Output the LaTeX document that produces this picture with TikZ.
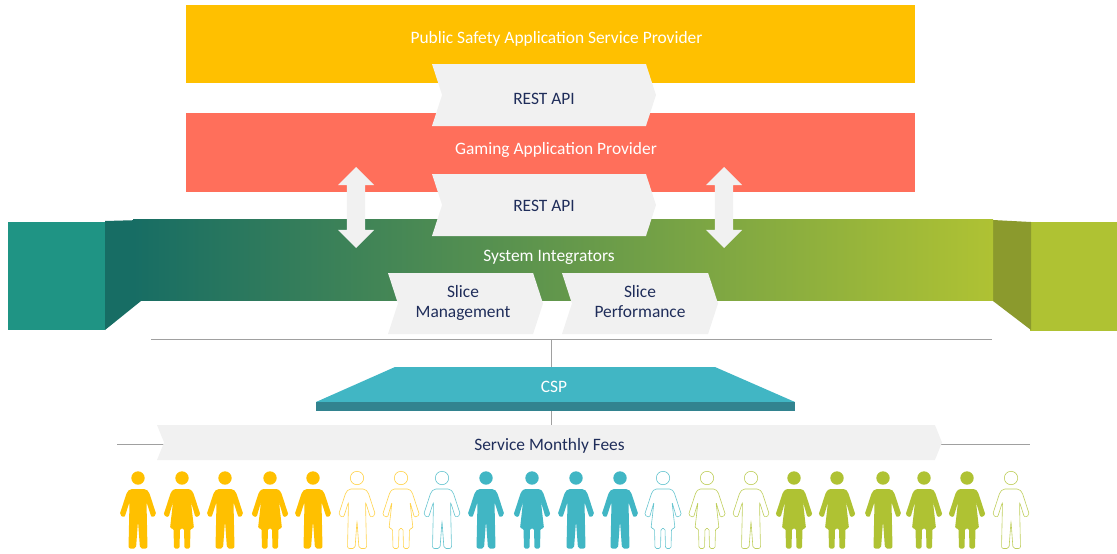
\documentclass[tikz,border=0pt]{standalone}
\usepackage{xcolor}
\usepackage{fontspec}
\setmainfont{Carlito}
\usetikzlibrary{shapes.geometric, shapes.symbols, shapes.arrows}

\definecolor{safety}{HTML}{FFC000}
\definecolor{gaming}{HTML}{FF6F5B}
\definecolor{tealside}{HTML}{1F9484}
\definecolor{tealfold}{HTML}{176D64}
\definecolor{limeside}{HTML}{AFC233}
\definecolor{limefold}{HTML}{8B9A2D}
\definecolor{cspface}{HTML}{41B6C4}
\definecolor{cspedge}{HTML}{32838F}
\definecolor{tag}{HTML}{F1F1F1}
\definecolor{navy}{HTML}{1F2D5A}
\definecolor{rule}{HTML}{A0A0A0}

\begin{document}
\begin{tikzpicture}[x=1pt, y=-1pt, font=\fontsize{17.4}{20}\selectfont]
    % Define the style for the nodes
    \tikzstyle{band} = [rectangle, inner sep=0pt, minimum width=729, minimum height=78.5]
    \tikzstyle{title} = [text=white, inner sep=0pt]
    \tikzstyle{tagbox} = [signal, signal from=west, signal to=east, signal pointer angle=144, fill=tag, text=navy, inner sep=0pt, minimum height=62, align=center]
    \tikzstyle{updown} = [double arrow, shape border rotate=90, fill=tag, inner sep=9pt, minimum height=81, minimum width=36, double arrow head extend=9]
    \tikzstyle{line} = [draw=rule, thick]
    \tikzstyle{fullgold} = [fill=safety]
    \tikzstyle{linegold} = [draw=safety!70, line width=0.6pt]
    \tikzstyle{fullteal} = [fill=cspface]
    \tikzstyle{lineteal} = [draw=cspface!80, line width=0.6pt]
    \tikzstyle{fullgreen} = [fill=limeside]
    \tikzstyle{linegreen} = [draw=limeside!80, line width=0.6pt]

    % Define the people
    \tikzset{
      pics/man/.style={code={
        \path[pic actions] (0,0) circle (6.7);
        \path[pic actions, rounded corners=2pt] (-8,11) -- (8,11) -- (11,14) -- (18.5,37) -- (13.5,39.5) -- (8.5,24) -- (9.5,70.5) -- (2,70.5) -- (0,43)
          -- (-2,70.5) -- (-9.5,70.5) -- (-8.5,24) -- (-13.5,39.5) -- (-18.5,37) -- (-11,14) -- cycle;
      }},
      pics/woman/.style={code={
        \path[pic actions] (0,0) circle (6.7);
        \path[pic actions, rounded corners=1.5pt] (-8,11) -- (8,11) -- (11,14) -- (18.5,37) -- (13.5,39.5) -- (9,24) -- (12,50.5) -- (8.5,50.5) -- (8,70.5) -- (2.5,70.5) -- (2,50.5)
          -- (-2,50.5) -- (-2.5,70.5) -- (-8,70.5) -- (-8.5,50.5) -- (-12,50.5) -- (-9,24) -- (-13.5,39.5) -- (-18.5,37) -- (-11,14) -- cycle;
      }}
    }

    \useasboundingbox (0,0) rectangle (1117,554);

    % Place the bands
    \node [band, fill=safety] (safety) at (550.5,44) {};
    \node [band, fill=gaming] (gaming) at (550.5,152.5) {};
    \node [title] (safetytext) at (556.5,38.5) {Public Safety Application Service Provider};
    \node [title] (gamingtext) at (556,150) {Gaming Application Provider};

    % The folded band of the integrators
    \fill [tealside] (8,222) rectangle (105,330);
    \fill [tealfold] (105,221) -- (141,220) -- (141,301) -- (105,330) -- cycle;
    \fill [limeside] (1030,222) rectangle (1117,331);
    \fill [limefold] (993,220) -- (1031,222) -- (1031,330) -- (993,301) -- cycle;
    \node [rectangle, inner sep=0pt, minimum width=860, minimum height=81, left color=tealfold, right color=limeside] (integrators) at (563,260) {};
    \node [title] (integratorstext) at (549,257) {System Integrators};

    % Place the rules
    \coordinate (topleft) at (151,339);
    \coordinate (topright) at (992,339);
    \coordinate (topmid) at (551,339);
    \coordinate (feesleft) at (117,444);
    \coordinate (feesright) at (1030,444);
    \coordinate (feesmid) at (551,444);
    \path [line] (topleft) -- (topright);
    \path [line] (topmid) -- (feesmid);
    \path [line] (feesleft) -- (feesright);

    % Place the arrows and tags
    \node [updown] (arrowleft) at (356,207.5) {};
    \node [updown] (arrowright) at (724,207.5) {};
    \node [tagbox, minimum width=224, text height=19pt, text depth=0pt] (restone) at (544,95) {REST API};
    \node [tagbox, minimum width=224, text height=13pt, text depth=0pt] (resttwo) at (544,205) {REST API};
    \node [tagbox, minimum width=155, minimum height=61, text depth=5pt] (management) at (465.5,303.5) {Slice\hspace*{5pt}\\Management\hspace*{5pt}};
    \node [tagbox, minimum width=156, minimum height=61, text depth=5pt] (performance) at (640,303.5) {Slice\\Performance};

    % Place the provider
    \fill [cspface] (395,367) -- (715,367) -- (795,402) -- (316,402) -- cycle;
    \fill [cspedge] (316,402) rectangle (795,411);
    \node [title] (csp) at (554,387) {CSP};
    \node [tagbox, signal pointer angle=136, minimum width=785, minimum height=35, text height=15pt, text depth=0pt] (fees) at (549.5,442.5) {Service Monthly Fees};

    % Place the people
    \foreach \x in {138,225,313} \pic [fullgold] at (\x,478) {man};
    \foreach \x in {182,270} \pic [fullgold] at (\x,478) {woman};
    \pic [linegold] at (357,478) {man};
    \pic [linegold] at (401,478) {woman};
    \pic [lineteal] at (442,478) {man};
    \foreach \x in {486,576,620} \pic [fullteal] at (\x,478) {man};
    \pic [fullteal] at (532,478) {woman};
    \pic [lineteal] at (663,478) {woman};
    \pic [linegreen] at (707,478) {woman};
    \foreach \x in {751,1011} \pic [linegreen] at (\x,478) {man};
    \foreach \x in {794,837,924,967} \pic [fullgreen] at (\x,478) {woman};
    \pic [fullgreen] at (883,478) {man};
\end{tikzpicture}
\end{document}
